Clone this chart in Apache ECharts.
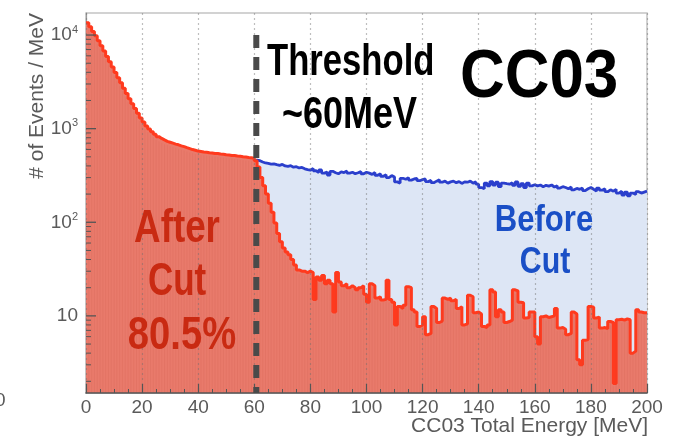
<!DOCTYPE html>
<html>
<head>
<meta charset="utf-8">
<script src="https://cdn.jsdelivr.net/npm/echarts@6/dist/echarts.min.js"></script>
<style>
  html, body { margin: 0; padding: 0; background: #ffffff; }
  #chart { width: 677px; height: 439px; }
</style>
</head>
<body>
<div id="chart"></div>
<script>
// CC03 total energy spectrum, 1 MeV bins, events per MeV.
const binWidthMeV = 1;

// After the veto cut: bins 0..199 MeV
const afterCut = [
  13500, 12300, 10900, 9800, 8700, 7700, 6750, 5900, 5200, 4550,
  3980, 3500, 3100, 2700, 2370, 2090, 1850, 1640, 1460, 1300,
  1180, 1070, 990, 925, 870, 822, 786, 758, 732, 716,
  700, 684, 672, 655, 642, 626, 612, 598, 588, 576,
  570, 562, 560, 552, 550, 544, 542, 535, 533, 527,
  524, 518, 516, 510, 507, 500, 497, 492, 489, 484,
  455, 390, 300, 245, 200, 160, 128, 98, 76, 62,
  53, 48, 45, 40, 35, 31, 30, 30, 29, 30,
  29, 15, 26, 24, 27, 22, 24, 22, 11, 29,
  23, 21, 22, 20, 21, 20, 19, 20, 21, 17,
  14, 22, 21, 15.5, 16, 14.8, 15, 24, 15, 14,
  8, 12.6, 12, 13, 20.5, 20, 11.6, 11, 7.7, 8,
  9.8, 6.3, 6.5, 12.6, 12, 8.5, 8.8, 15.5, 15, 15.5,
  14.5, 15, 12, 12.5, 8, 8.2, 16.6, 16, 10.8, 11,
  10.5, 7.7, 7.5, 8, 19, 18, 9.8, 11.6, 11, 8.5,
  8.7, 9, 19, 18.5, 14, 13.8, 9.5, 9.6, 11, 11,
  6, 5, 9.8, 10, 9.6, 9.8, 10, 12, 7.4, 7.5,
  7.2, 6.3, 6.5, 11, 10.5, 3.4, 3, 5.5, 5.6, 12.6,
  12.4, 9.5, 9.7, 7.4, 7.5, 7.3, 8.7, 8.5, 1.9, 9.1,
  9.2, 9, 9.3, 9.1, 4, 4.2, 11.6, 11, 10.8, 10.8
];

// Before the cut, above threshold: bins 60..199 MeV (below 60 it equals afterCut)
const beforeCutFirstBin = 60;
const beforeCut = [
  462, 455, 440, 430, 425, 418, 420, 412, 405, 415,
  400, 395, 402, 388, 392, 380, 385, 372, 365, 360,
  375, 355, 340, 362, 335, 345, 320, 350, 338, 330,
  345, 340, 352, 335, 342, 330, 338, 348, 330, 342,
  335, 325, 340, 318, 330, 310, 322, 300, 315, 305,
  270, 262, 295, 288, 300, 282, 290, 295, 278, 285,
  290, 272, 280, 265, 275, 285, 268, 275, 262, 270,
  275, 265, 272, 260, 270, 268, 275, 262, 270, 255,
  235, 228, 262, 245, 272, 250, 268, 240, 262, 258,
  255, 265, 248, 270, 242, 258, 235, 262, 245, 252,
  245, 250, 240, 248, 243, 250, 238, 245, 232, 240,
  235, 228, 238, 222, 230, 225, 232, 218, 228, 235,
  225, 215, 232, 220, 228, 212, 222, 215, 225, 205,
  215, 195, 210, 192, 205, 198, 212, 205, 210, 215
];

const thresholdMeV = 60;
const thresholdTop = 10000;

// axis ranges
const xMin = 0, xMax = 200, xStep = 20;
const yMin = 1.5, yMax = 17200;

// log-axis ticks
const yMajorTicks = [10, 100, 1000, 10000];
const yMinorTicks = [
  2, 3, 4, 5, 6, 7, 8, 9,
  20, 30, 40, 50, 60, 70, 80, 90,
  200, 300, 400, 500, 600, 700, 800, 900,
  2000, 3000, 4000, 5000, 6000, 7000, 8000, 9000
];

// histogram step points: lower bin edge + closing edge
function histPoints(values, firstBin) {
  const pts = values.map((v, i) => [(firstBin + i) * binWidthMeV, v]);
  pts.push([(firstBin + values.length) * binWidthMeV, values[values.length - 1]]);
  return pts;
}

const chart = echarts.init(document.getElementById('chart'), null, { renderer: 'canvas' });

const labelColor = '#5a5a5a';
const sansFont = '"Liberation Sans", Arial, Helvetica, sans-serif';

function tickSeries(values, len, width) {
  return {
    type: 'custom',
    z: 6,
    silent: true,
    data: values.map(v => [xMin, v]),
    encode: { x: 0, y: 1 },
    renderItem: function (params, api) {
      const p = api.coord([api.value(0), api.value(1)]);
      return {
        type: 'line',
        shape: { x1: p[0], y1: p[1], x2: p[0] + len, y2: p[1] },
        style: { stroke: '#555555', lineWidth: width }
      };
    }
  };
}

const option = {
  animation: false,
  backgroundColor: '#ffffff',
  grid: {
    left: 86, right: 30, top: 13, bottom: 46,
    show: true, borderColor: '#c4c4c4', borderWidth: 1.5, backgroundColor: 'transparent'
  },
  xAxis: {
    type: 'value',
    min: xMin, max: xMax, interval: xStep,
    z: 5,
    axisLine: { show: true, lineStyle: { color: '#555555', width: 1.5 } },
    axisTick: { show: true, inside: true, length: 9, lineStyle: { color: '#555555', width: 1.2 } },
    minorTick: { show: true, splitNumber: 4, length: 4, lineStyle: { color: '#555555', width: 1 } },
    axisLabel: { color: labelColor, fontFamily: sansFont, fontSize: 19, margin: 5 },
    splitLine: { show: true, lineStyle: { color: 'rgba(110,110,110,0.45)', width: 1.2, type: [2, 3] } }
  },
  yAxis: {
    type: 'log',
    logBase: 10,
    min: yMin, max: yMax,
    axisLine: { show: true, lineStyle: { color: '#9a9a9a', width: 1.2 } },
    axisTick: { show: false },
    splitLine: { show: false },
    axisLabel: {
      showMinLabel: false,
      showMaxLabel: false,
      margin: 8,
      formatter: function (v) {
        const e = Math.log10(v);
        const r = Math.round(e);
        if (Math.abs(e - r) > 1e-6 || r < 1) return '';
        return r === 1 ? '{b|10}' : '{b|10}{s|' + r + '}';
      },
      rich: {
        b: { color: labelColor, fontFamily: sansFont, fontSize: 19 },
        s: { color: labelColor, fontFamily: sansFont, fontSize: 11, verticalAlign: 'top', lineHeight: 22 }
      }
    }
  },
  series: [
    {
      name: 'Before Cut',
      type: 'line',
      step: 'end',
      z: 2,
      symbol: 'none',
      data: histPoints(beforeCut, beforeCutFirstBin),
      lineStyle: { color: '#2b3fcc', width: 2.8 },
      areaStyle: { color: '#dde6f5', opacity: 1, origin: 'start' }
    },
    {
      name: 'After Cut',
      type: 'line',
      step: 'end',
      z: 3,
      symbol: 'none',
      data: histPoints(afterCut, 0),
      lineStyle: { color: '#ff3a1e', width: 3 },
      areaStyle: { color: '#e97a6b', opacity: 1, origin: 'start' }
    },
    // faint bin-edge hatching inside the after-cut fill
    {
      type: 'custom',
      z: 4,
      silent: true,
      data: afterCut.map((v, i) => [i * binWidthMeV, v]),
      encode: { x: 0, y: 1 },
      renderItem: function (params, api) {
        const top = api.coord([api.value(0), api.value(1)]);
        const bottom = api.coord([api.value(0), yMin]);
        return {
          type: 'line',
          shape: { x1: top[0], y1: top[1] + 3, x2: bottom[0], y2: bottom[1] },
          style: { stroke: 'rgba(190,70,60,0.12)', lineWidth: 1 }
        };
      }
    },
    // threshold marker
    {
      type: 'custom',
      z: 10,
      silent: true,
      data: [[thresholdMeV, thresholdTop]],
      encode: { x: 0, y: 1 },
      renderItem: function (params, api) {
        const top = api.coord([api.value(0), api.value(1)]);
        const bottom = api.coord([api.value(0), yMin]);
        return {
          type: 'line',
          shape: { x1: top[0] + 2, y1: top[1], x2: bottom[0] + 2, y2: bottom[1] },
          style: { stroke: '#4a4a4a', lineWidth: 6, lineDash: [13, 9] }
        };
      }
    },
    tickSeries(yMajorTicks, 10, 1.3),
    tickSeries(yMinorTicks, 5, 1)
  ],
  graphic: [
    {
      type: 'text', x: 37, y: 13, rotation: Math.PI / 2,
      style: { text: '# of Events / MeV', fill: labelColor, font: '21px ' + sansFont, align: 'right', verticalAlign: 'middle' }
    },
    {
      type: 'text', x: 648, y: 426,
      style: { text: 'CC03 Total Energy [MeV]', fill: labelColor, font: '21px ' + sansFont, align: 'right', verticalAlign: 'middle' }
    },
    {
      type: 'text', x: -5, y: 401,
      style: { text: '0', fill: labelColor, font: '19px ' + sansFont, align: 'left', verticalAlign: 'middle' }
    },
    {
      type: 'text', x: 267, y: 63, scaleX: 0.77, z: 20,
      style: { text: 'Threshold', fill: '#000000', font: 'bold 45px ' + sansFont, align: 'left', verticalAlign: 'middle' }
    },
    {
      type: 'text', x: 282, y: 116, scaleX: 0.8, z: 20,
      style: { text: '~60MeV', fill: '#000000', font: 'bold 45px ' + sansFont, align: 'left', verticalAlign: 'middle' }
    },
    {
      type: 'text', x: 460, y: 78, scaleX: 0.91, z: 20,
      style: { text: 'CC03', fill: '#000000', font: 'bold 68px ' + sansFont, align: 'left', verticalAlign: 'middle' }
    },
    {
      type: 'text', x: 177, y: 229, scaleX: 0.8, z: 20,
      style: { text: 'After', fill: '#c92a12', font: 'bold 46px ' + sansFont, align: 'center', verticalAlign: 'middle' }
    },
    {
      type: 'text', x: 177, y: 282, scaleX: 0.76, z: 20,
      style: { text: 'Cut', fill: '#c92a12', font: 'bold 46px ' + sansFont, align: 'center', verticalAlign: 'middle' }
    },
    {
      type: 'text', x: 182, y: 336, scaleX: 0.83, z: 20,
      style: { text: '80.5%', fill: '#c92a12', font: 'bold 46px ' + sansFont, align: 'center', verticalAlign: 'middle' }
    },
    {
      type: 'text', x: 544, y: 221, scaleX: 0.84, z: 20,
      style: { text: 'Before', fill: '#1a4fc6', font: 'bold 37px ' + sansFont, align: 'center', verticalAlign: 'middle' }
    },
    {
      type: 'text', x: 545, y: 263, scaleX: 0.82, z: 20,
      style: { text: 'Cut', fill: '#1a4fc6', font: 'bold 37px ' + sansFont, align: 'center', verticalAlign: 'middle' }
    }
  ]
};

chart.setOption(option);
</script>
</body>
</html>
